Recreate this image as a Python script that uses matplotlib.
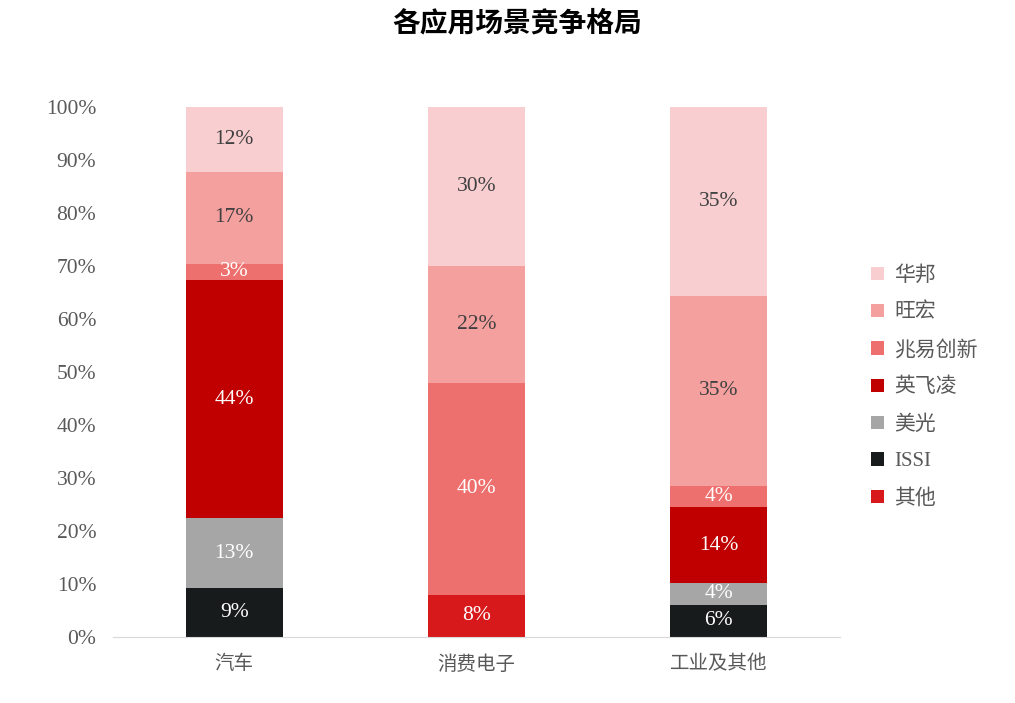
import matplotlib.pyplot as plt
import numpy as np

categories = ['汽车', '消费电子', '工业及其他']
series = ['其他', 'ISSI', '美光', '英飞凌', '兆易创新', '旺宏', '华邦']
values = {
    '其他':     [0, 8, 0],
    'ISSI':     [9, 0, 6],
    '美光':     [13, 0, 4],
    '英飞凌':   [44, 0, 14],
    '兆易创新': [3, 40, 4],
    '旺宏':     [17, 22, 35],
    '华邦':     [12, 30, 35],
}
colors = {
    '其他': '#D7191C',
    'ISSI': '#171B1B',
    '美光': '#A6A6A6',
    '英飞凌': '#C00000',
    '兆易创新': '#EE706E',
    '旺宏': '#F4A09F',
    '华邦': '#F8CED0',
}
label_colors = {
    '其他': 'white', 'ISSI': 'white', '美光': 'white', '英飞凌': 'white',
    '兆易创新': 'white', '旺宏': '#404040', '华邦': '#404040',
}

FONT = ['Liberation Serif', 'Noto Sans CJK SC']
plt.rcParams['font.family'] = FONT

fig = plt.figure(figsize=(10.15, 7.03), dpi=100)
ax = fig.add_axes([0.1113, 0.0939, 0.7163, 0.7539])

x = np.arange(len(categories))
totals = np.sum([values[s] for s in series], axis=0).astype(float)
bottom = np.zeros(len(categories))
handles = {}
for s in series:
    raw = np.array(values[s], dtype=float)
    share = raw / totals
    bars = ax.bar(x, share, 0.4, bottom=bottom, color=colors[s], label=s)
    handles[s] = bars
    for i in range(len(categories)):
        if raw[i] > 0:
            ax.text(x[i], bottom[i] + share[i] / 2, f'{int(raw[i])}%',
                    ha='center', va='center', fontsize=15.5,
                    color=label_colors[s])
    bottom += share

ax.set_xlim(-0.5, 2.5)
ax.set_ylim(0, 1.0)
ax.set_yticks(np.arange(0, 1.01, 0.1))
ax.set_yticklabels([f'{int(round(v * 100))}%' for v in np.arange(0, 1.01, 0.1)])
ax.set_xticks(x)
ax.set_xticklabels(categories)
ax.tick_params(axis='y', length=0, labelsize=15.5, labelcolor='#595959', pad=12)
ax.tick_params(axis='x', length=0, labelsize=14, labelcolor='#595959', pad=13)
for sp in ['top', 'right', 'left']:
    ax.spines[sp].set_visible(False)
ax.spines['bottom'].set_color('#D9D9D9')

order = ['华邦', '旺宏', '兆易创新', '英飞凌', '美光', 'ISSI', '其他']
leg = fig.legend([handles[s] for s in order], order, loc='center left',
                 bbox_to_anchor=(0.84, 0.449), frameon=False, fontsize=15,
                 handlelength=0.6, handleheight=0.6, labelspacing=0.85,
                 handletextpad=0.5)
for t in leg.get_texts():
    t.set_color('#595959')

fig.suptitle('各应用场景竞争格局', x=0.51, y=0.985, fontsize=20,
             fontweight='bold', color='black')

fig.savefig('out.png', dpi=100)
